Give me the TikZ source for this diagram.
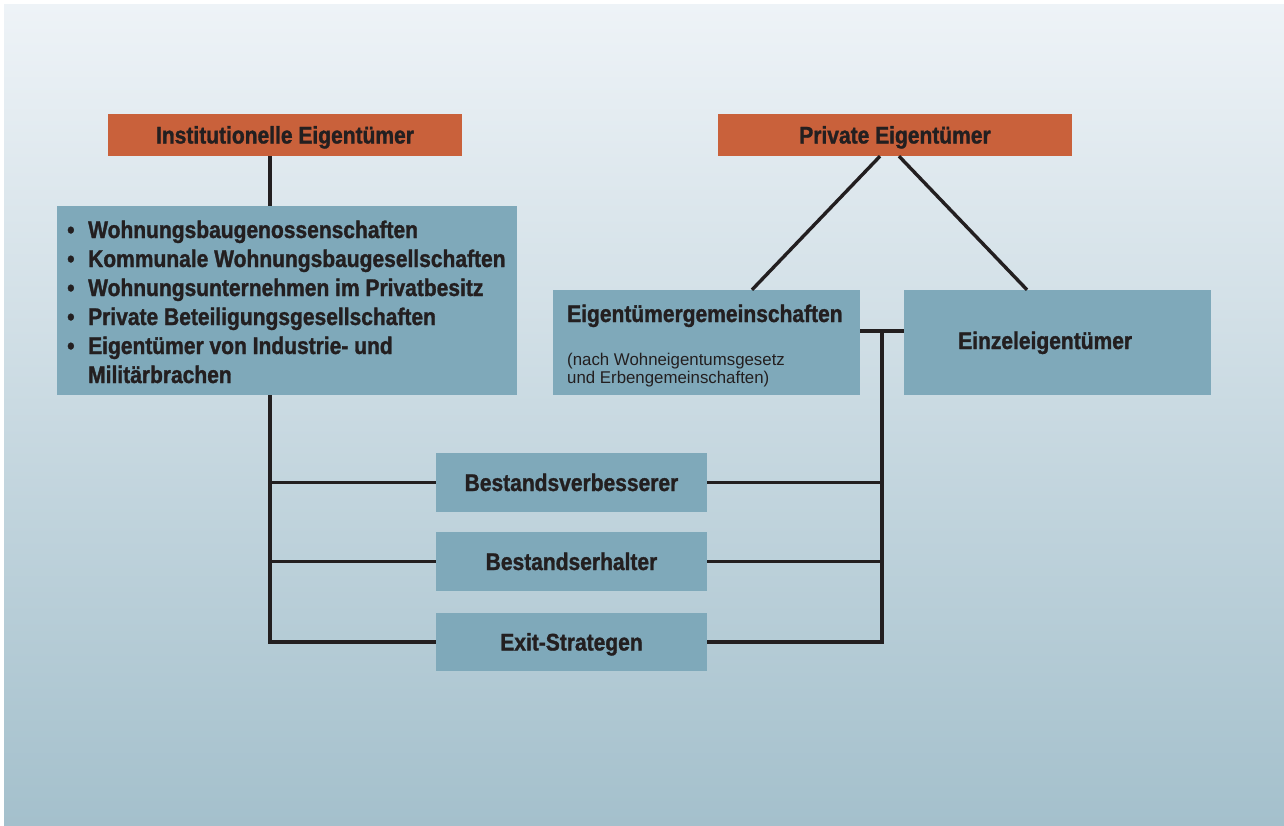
\documentclass[tikz,border=0pt]{standalone}
\usepackage{fontspec}
\setmainfont{Liberation Sans}[FakeStretch=0.875, BoldFeatures={FakeBold=1.3}]
\newfontfamily\notefont{Liberation Sans}[FakeStretch=0.99]
\definecolor{bgtop}{HTML}{EEF3F7}
\definecolor{bgbot}{HTML}{A4C0CC}
\definecolor{boxblue}{HTML}{7FA9BA}
\definecolor{orangebox}{HTML}{C9613B}
\definecolor{ink}{HTML}{231F20}
\begin{document}
\begin{tikzpicture}[x=1pt,y=-1pt,
  bigtxt/.style={font=\fontsize{24}{29}\selectfont\bfseries, text=ink},
  notetxt/.style={font=\notefont\fontsize{17}{19}\selectfont, text=ink, anchor=base west, inner sep=0pt},
  linetxt/.style={bigtxt, anchor=base west, inner sep=0pt},
  ownerbox/.style={fill=orangebox, minimum width=354pt, minimum height=42pt, inner sep=0pt, text height=17pt, text depth=0pt, bigtxt},
  stratbox/.style={fill=boxblue, minimum width=271pt, minimum height=59pt, inner sep=0pt, text height=17pt, text depth=0pt, bigtxt},
  bluebox/.style={fill=boxblue, inner sep=0pt},
  conn/.style={draw=ink, line width=3.4pt, line join=miter}
]
\useasboundingbox (0,0) rectangle (1284,825);
\shade[top color=bgtop, bottom color=bgbot] (4,4) rectangle (1284,825);

% owner headers
\node[ownerbox] (inst) at (285,135) {Institutionelle Eigentümer};
\node[ownerbox] (priv) at (895,135) {Private Eigentümer};

% institutional list
\node[bluebox, minimum width=460pt, minimum height=189pt] (list) at (287,300.5) {};
\node[linetxt] (l1) at (67,238) {\makebox[21pt][l]{•}Wohnungsbaugenossenschaften};
\node[linetxt] (l2) at (67,267) {\makebox[21pt][l]{•}Kommunale Wohnungsbaugesellschaften};
\node[linetxt] (l3) at (67,296) {\makebox[21pt][l]{•}Wohnungsunternehmen im Privatbesitz};
\node[linetxt] (l4) at (67,325) {\makebox[21pt][l]{•}Private Beteiligungsgesellschaften};
\node[linetxt] (l5) at (67,354) {\makebox[21pt][l]{•}Eigentümer von Industrie- und};
\node[linetxt] (l6) at (88,383) {Militärbrachen};

% private owner boxes
\node[bluebox, minimum width=307pt, minimum height=105pt] (eg) at (706.5,342.5) {};
\node[linetxt] (egt) at (567,322) {Eigentümergemeinschaften};
\node[notetxt] (egn1) at (567,365) {(nach Wohneigentumsgesetz};
\node[notetxt] (egn2) at (567,383) {und Erbengemeinschaften)};

\node[bluebox, minimum width=307pt, minimum height=105pt] (ez) at (1057.5,342.5) {};
\node[linetxt] (ezt) at (958,349) {Einzeleigentümer};

% strategy boxes
\node[stratbox] (b1) at (571.5,482.5) {Bestandsverbesserer};
\node[stratbox] (b2) at (571.5,561.5) {Bestandserhalter};
\node[stratbox, minimum height=58pt] (b3) at (571.5,642) {Exit-Strategen};

% connectors
\coordinate (lx) at (270,0);
\coordinate (rx) at (882,0);
\coordinate (tj) at (882,331);
\draw[conn] (inst.south -| lx) -- (list.north -| lx);
\draw[conn] (list.south -| lx) |- (b3.west);
\draw[conn] (lx |- b1.west) -- (b1.west);
\draw[conn] (lx |- b2.west) -- (b2.west);
\draw[conn] (b1.east) -- (rx |- b1.east);
\draw[conn] (b2.east) -- (rx |- b2.east);
\draw[conn] (b3.east) -| (tj);
\draw[conn] (eg.east |- tj) -- (ez.west |- tj);
\draw[conn] ([xshift=-15pt]priv.south) -- ([xshift=45.5pt]eg.north);
\draw[conn] ([xshift=4pt]priv.south) -- ([xshift=-30.5pt]ez.north);
\end{tikzpicture}
\end{document}
